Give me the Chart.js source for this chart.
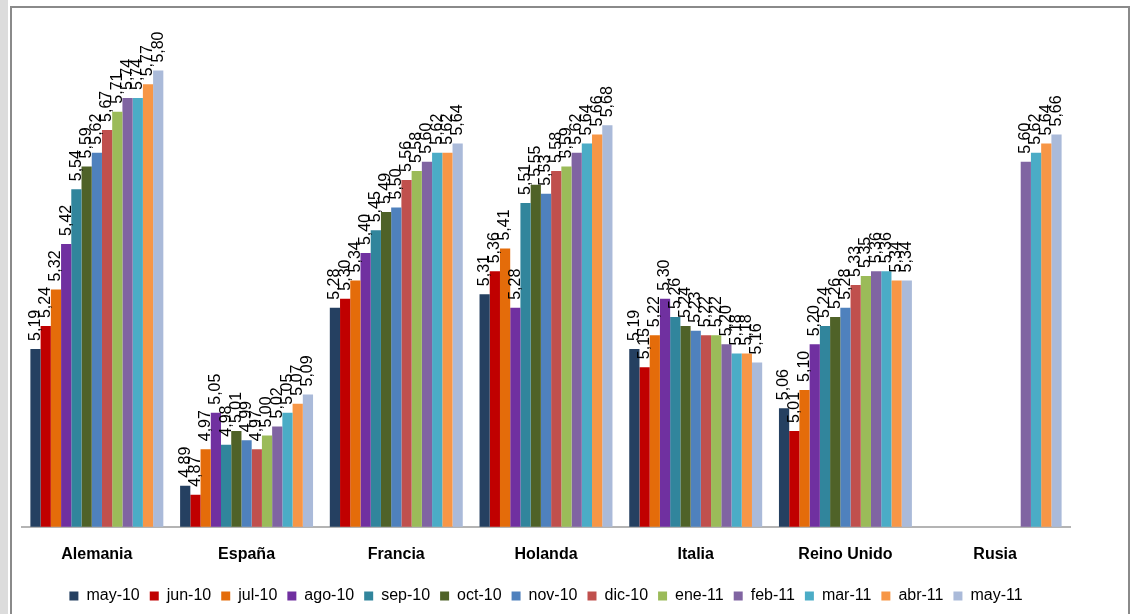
<!DOCTYPE html>
<html lang="es">
<head>
  <meta charset="UTF-8">
  <title>Rentabilidad por país</title>
  <script src="https://cdn.jsdelivr.net/npm/chart.js"></script>
  <style>
    body {
      margin: 0;
      width: 1130px;
      height: 614px;
      overflow: hidden;
      background: #ffffff;
      position: relative;
      font-family: "Liberation Sans", Arial, sans-serif;
    }
    #franja {
      position: absolute;
      left: 0; top: 0;
      width: 8px; height: 614px;
      background: #dcdcdc;
    }
    #marco {
      position: absolute;
      left: 10px; top: 6px;
      width: 1116px; height: 640px;
      border: 2px solid #8a8a8a;
      background: #ffffff;
    }
    #contenedor {
      position: absolute;
      left: 0; top: 0;
      width: 1130px; height: 614px;
    }
  </style>
</head>
<body>
  <div id="franja"></div>
  <div id="marco"></div>
  <div id="contenedor">
    <canvas id="grafico" width="1130" height="614"></canvas>
  </div>

  <script>
    // Categorías (países) y series (meses)
    const paises = ["Alemania", "España", "Francia", "Holanda", "Italia", "Reino Unido", "Rusia"];
    const meses = ["may-10", "jun-10", "jul-10", "ago-10", "sep-10", "oct-10", "nov-10",
                   "dic-10", "ene-11", "feb-11", "mar-11", "abr-11", "may-11"];
    const colores = ["#254061", "#C00000", "#E46C0A", "#7030A0", "#31859C", "#4F6228", "#4F81BD",
                     "#C0504D", "#9BBB59", "#8064A2", "#4BACC6", "#F79646", "#AABAD9"];

    // Valores, un array por país (orden de meses)
    const alemania   = [5.19, 5.24, 5.32, 5.42, 5.54, 5.59, 5.62, 5.67, 5.71, 5.74, 5.74, 5.77, 5.80];
    const espana     = [4.89, 4.87, 4.97, 5.05, 4.98, 5.01, 4.99, 4.97, 5.00, 5.02, 5.05, 5.07, 5.09];
    const francia    = [5.28, 5.30, 5.34, 5.40, 5.45, 5.49, 5.50, 5.56, 5.58, 5.60, 5.62, 5.62, 5.64];
    const holanda    = [5.31, 5.36, 5.41, 5.28, 5.51, 5.55, 5.53, 5.58, 5.59, 5.62, 5.64, 5.66, 5.68];
    const italia     = [5.19, 5.15, 5.22, 5.30, 5.26, 5.24, 5.23, 5.22, 5.22, 5.20, 5.18, 5.18, 5.16];
    const reinoUnido = [5.06, 5.01, 5.10, 5.20, 5.24, 5.26, 5.28, 5.33, 5.35, 5.36, 5.36, 5.34, 5.34];
    const rusia      = [null, null, null, null, null, null, null, null, null, 5.60, 5.62, 5.64, 5.66];

    const porPais = [alemania, espana, francia, holanda, italia, reinoUnido, rusia];

    // Un dataset por mes, tomando el valor de cada país
    const datasets = meses.map((mes, i) => ({
      label: mes,
      data: porPais.map(p => p[i]),
      backgroundColor: colores[i],
      borderWidth: 0,
      categoryPercentage: 0.888,
      barPercentage: 1.0
    }));

    // Etiquetas de valor giradas 90º sobre cada barra (coma decimal)
    const etiquetasValor = {
      id: "etiquetasValor",
      afterDatasetsDraw(chart) {
        const ctx = chart.ctx;
        ctx.save();
        ctx.font = "16px 'Liberation Sans', Arial, sans-serif";
        ctx.fillStyle = "#000000";
        ctx.textAlign = "left";
        ctx.textBaseline = "middle";
        chart.data.datasets.forEach((ds, i) => {
          const meta = chart.getDatasetMeta(i);
          meta.data.forEach((barra, j) => {
            const v = ds.data[j];
            if (v === null || v === undefined) return;
            ctx.save();
            ctx.translate(barra.x, barra.y - 8);
            ctx.rotate(-Math.PI / 2);
            ctx.fillText(v.toFixed(2).replace(".", ","), 0, 0);
            ctx.restore();
          });
        });
        ctx.restore();
      }
    };

    const ctx = document.getElementById("grafico").getContext("2d");
    new Chart(ctx, {
      type: "bar",
      data: { labels: paises, datasets: datasets },
      plugins: [etiquetasValor],
      options: {
        responsive: false,
        animation: false,
        devicePixelRatio: 1,
        layout: { padding: { left: 22, right: 60, top: 25, bottom: 0 } },
        plugins: {
          tooltip: { enabled: false },
          legend: {
            position: "bottom",
            labels: {
              boxWidth: 9,
              boxHeight: 9,
              padding: 10,
              color: "#000000",
              font: { family: "'Liberation Sans', Arial, sans-serif", size: 16 }
            }
          }
        },
        scales: {
          x: {
            grid: { display: false },
            border: { display: true, color: "#b4b4b4", width: 2 },
            afterFit(scale) { scale.height += 4; },
            ticks: {
              color: "#000000",
              padding: 10,
              maxRotation: 0,
              font: { family: "'Liberation Sans', Arial, sans-serif", size: 16, weight: "bold" }
            }
          },
          y: {
            display: false,
            min: 4.8,
            max: 5.9
          }
        }
      }
    });
  </script>
</body>
</html>
